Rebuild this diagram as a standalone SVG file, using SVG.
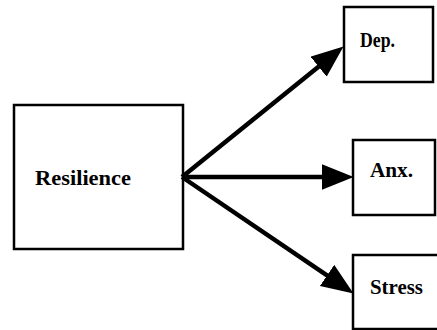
<svg xmlns="http://www.w3.org/2000/svg" width="437" height="330" viewBox="0 0 437 330">
<style>
.box{fill:#fff;stroke:#000;stroke-width:2.5}
.lbl{font-family:"Liberation Serif","Times New Roman",serif;font-weight:bold;fill:#000;font-size:21px}
.arr{stroke:#000;stroke-width:4.5;fill:none}
</style>
<defs>
<marker id="ah" markerUnits="userSpaceOnUse" markerWidth="32" markerHeight="26" viewBox="0 0 30 24" refX="20" refY="12" orient="auto">
<path d="M0,0 L30,12 L0,24 z" fill="#000"/>
</marker>
</defs>
<rect width="437" height="330" fill="#fff"/>
<g id="resilience">
<rect class="box" x="14" y="105" width="169" height="144" stroke-width="3"/>
<text class="lbl" x="35" y="185" textLength="96" lengthAdjust="spacingAndGlyphs">Resilience</text>
</g>
<g id="dep">
<rect class="box" x="344" y="7" width="89" height="75"/>
<text class="lbl" x="360" y="47" textLength="35" lengthAdjust="spacingAndGlyphs">Dep.</text>
</g>
<g id="anx">
<rect class="box" x="353" y="140" width="82" height="75"/>
<text class="lbl" x="370" y="177" textLength="43" lengthAdjust="spacingAndGlyphs">Anx.</text>
</g>
<g id="stress">
<rect class="box" x="353" y="255" width="90" height="74"/>
<text class="lbl" x="370" y="294" textLength="53" lengthAdjust="spacingAndGlyphs">Stress</text>
</g>
<g id="connectors">
<line class="arr" x1="182" y1="177" x2="335.2" y2="53.3" marker-end="url(#ah)"/>
<line class="arr" x1="182" y1="177" x2="343" y2="177" marker-end="url(#ah)"/>
<line class="arr" x1="182" y1="177" x2="344.7" y2="287.4" marker-end="url(#ah)"/>
</g>
</svg>
